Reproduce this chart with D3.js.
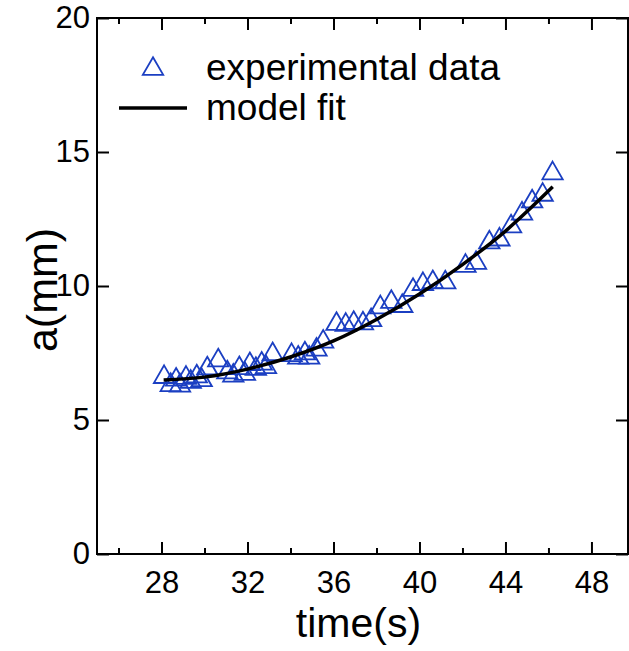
<!DOCTYPE html>
<html><head><meta charset="utf-8">
<script src="https://cdn.jsdelivr.net/npm/d3@7"></script>
<style>
html,body{margin:0;padding:0;background:#fff;}
svg{display:block;font-family:"Liberation Sans",Arial,Helvetica,sans-serif;}
</style></head>
<body>
<svg id="chart" width="629" height="651"></svg>
<script>
// ---- data ----
const expTime = [28.12,28.43,28.68,28.86,29.14,29.36,29.64,29.87,30.13,30.64,31.06,31.34,31.62,31.88,32.11,32.39,32.66,32.86,33.17,34.05,34.36,34.67,34.87,35.21,35.52,36.14,36.57,36.94,37.37,37.75,38.18,38.69,39.20,39.70,40.16,40.62,41.20,42.14,42.63,43.25,43.72,44.26,44.77,45.24,45.73,46.19];
const expA    = [6.60,6.30,6.50,6.28,6.57,6.42,6.62,6.48,6.92,7.22,6.77,6.65,6.93,6.72,7.08,6.90,7.10,6.97,7.45,7.42,7.32,7.48,7.32,7.62,7.92,8.58,8.55,8.62,8.60,8.72,9.20,9.40,9.25,9.85,10.07,10.14,10.13,10.75,10.86,11.62,11.73,12.22,12.70,13.15,13.40,14.20];
const fitTime = [28.1,30.0,32.0,34.0,36.0,38.0,40.0,42.0,44.0,46.2];
const fitA    = [6.49,6.60,6.90,7.35,7.95,8.75,9.70,10.80,12.05,13.70];
const xMajorTicks = [28,32,36,40,44,48];
const xMinorTicks = [26,30,34,38,42,46];
const yTicks = [0,5,10,15,20];
const xLabel = "time(s)";
const yLabel = "a(mm)";
const legendLabels = ["experimental data","model fit"];

// ---- layout ----
const svg = d3.select("#chart");
const L = 97, R = 628, T = 18, B = 554;
const x = d3.scaleLinear().domain([25, 49.7]).range([L, R]);
const y = d3.scaleLinear().domain([0, 20]).range([B, T]);
const blue = "#1b3fc2";

// frame
svg.append("rect").attr("x", L).attr("y", T).attr("width", R - L).attr("height", B - T)
  .attr("fill", "none").attr("stroke", "#000").attr("stroke-width", 2);

function styleAxis(g){
  g.select(".domain").remove();
  g.selectAll(".tick line").attr("stroke","#000").attr("stroke-width",2);
  g.selectAll(".tick text").attr("fill","#000").style("font-size","31px")
    .style("font-family",'"Liberation Sans",Arial,sans-serif');
}
// bottom major
svg.append("g").attr("transform",`translate(0,${B})`)
  .call(d3.axisBottom(x).tickValues(xMajorTicks).tickSizeInner(-12).tickSizeOuter(0).tickPadding(17).tickFormat(d3.format("d")))
  .call(styleAxis);
// bottom minor
svg.append("g").attr("transform",`translate(0,${B})`)
  .call(d3.axisBottom(x).tickValues(xMinorTicks).tickSizeInner(-6).tickSizeOuter(0).tickFormat(""))
  .call(styleAxis);
// top major/minor
svg.append("g").attr("transform",`translate(0,${T})`)
  .call(d3.axisTop(x).tickValues(xMajorTicks).tickSizeInner(-12).tickSizeOuter(0).tickFormat(""))
  .call(styleAxis);
svg.append("g").attr("transform",`translate(0,${T})`)
  .call(d3.axisTop(x).tickValues(xMinorTicks).tickSizeInner(-6).tickSizeOuter(0).tickFormat(""))
  .call(styleAxis);
// left
svg.append("g").attr("transform",`translate(${L},0)`)
  .call(d3.axisLeft(y).tickValues(yTicks).tickSizeInner(-12).tickSizeOuter(0).tickPadding(7).tickFormat(d3.format("d")))
  .call(styleAxis);
// right
svg.append("g").attr("transform",`translate(${R},0)`)
  .call(d3.axisRight(y).tickValues(yTicks).tickSizeInner(-12).tickSizeOuter(0).tickFormat(""))
  .call(styleAxis);

// axis titles
svg.append("text").attr("x", (L + R) / 2 - 4).attr("y", 637).attr("text-anchor","middle")
  .style("font-size","41px").attr("fill","#000").text(xLabel);
svg.append("text").attr("transform",`translate(57,${(T+B)/2 + 4}) rotate(-90)`).attr("text-anchor","middle")
  .style("font-size","43px").attr("fill","#000").text(yLabel);

// experimental data
const tri = d3.symbol().type(d3.symbolTriangle).size(180);
svg.append("g").selectAll("path").data(expTime.map((t,i)=>[t,expA[i]])).join("path")
  .attr("d", tri).attr("transform", d=>`translate(${x(d[0])},${y(d[1])})`)
  .attr("fill","none").attr("stroke",blue).attr("stroke-width",1.8);

// model fit
const line = d3.line().x(d=>x(d[0])).y(d=>y(d[1])).curve(d3.curveMonotoneX);
svg.append("path").datum(fitTime.map((t,i)=>[t,fitA[i]])).attr("d", line)
  .attr("fill","none").attr("stroke","#000").attr("stroke-width",3.5);

// legend
const lg = svg.append("g");
lg.append("path").attr("d", tri).attr("transform","translate(153,69)")
  .attr("fill","none").attr("stroke",blue).attr("stroke-width",1.8);
lg.append("line").attr("x1",119).attr("x2",187).attr("y1",108).attr("y2",108)
  .attr("stroke","#000").attr("stroke-width",3.5);
lg.append("text").attr("x",206).attr("y",80).style("font-size","37px").attr("fill","#000").text(legendLabels[0]);
lg.append("text").attr("x",206).attr("y",120).style("font-size","37px").attr("fill","#000").text(legendLabels[1]);
</script>
</body></html>
